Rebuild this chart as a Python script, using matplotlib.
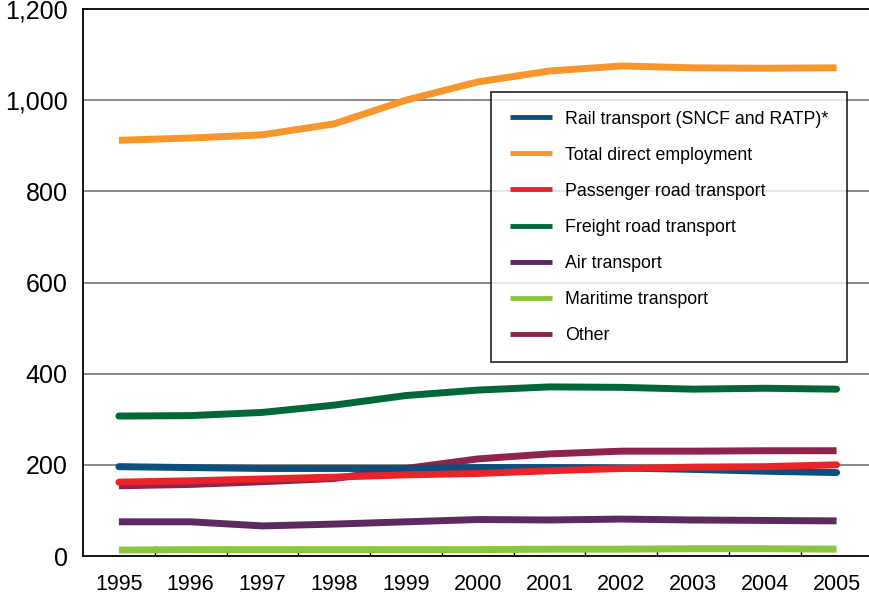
import matplotlib
matplotlib.use("Agg")
import matplotlib.pyplot as plt
from matplotlib.ticker import FuncFormatter

plt.rcParams['font.family'] = ['Liberation Sans', 'DejaVu Sans']

years = [1995, 1996, 1997, 1998, 1999, 2000, 2001, 2002, 2003, 2004, 2005]

rail = [196, 194, 192, 192, 192, 194, 194, 193, 190, 186, 183]
total = [912, 917, 924, 948, 1000, 1040, 1064, 1075, 1071, 1070, 1071]
passenger = [162, 165, 169, 173, 178, 181, 187, 192, 195, 196, 200]
freight = [307, 308, 315, 331, 352, 364, 371, 370, 366, 368, 366]
air = [75, 75, 66, 70, 75, 80, 79, 81, 79, 78, 77]
maritime = [13, 14, 14, 14, 14, 14, 15, 15, 16, 16, 15]
other = [154, 157, 163, 170, 192, 213, 224, 230, 230, 231, 231]

labels = ["Rail transport (SNCF and RATP)*", "Total direct employment",
          "Passenger road transport", "Freight road transport",
          "Air transport", "Maritime transport", "Other"]
colors = ["#0b4f7f", "#f7962a", "#e8242a", "#006837",
          "#5b2a5f", "#8cc63f", "#8e244d"]
caps = ["round", "butt", "round", "round", "butt", "butt", "butt"]

fig = plt.figure(figsize=(8.69, 5.98), dpi=100)
ax = fig.add_axes([83 / 869, 42 / 598, 1 - 83 / 869 + 0.004, 547 / 598])

x = list(range(len(years)))
series = [rail, total, passenger, freight, air, maritime, other]
# draw order: other under passenger, etc.
order = [1, 3, 6, 0, 2, 4, 5]
handles = [None] * len(series)
for i in order:
    h, = ax.plot(x, series[i], color=colors[i], lw=5,
                 solid_capstyle=caps[i], solid_joinstyle='round', zorder=3)
    handles[i] = h

ax.set_xlim(-0.5, 10.5)
ax.set_ylim(0, 1200)
ax.set_yticks(range(0, 1201, 200))
ax.yaxis.set_major_formatter(FuncFormatter(lambda v, p: f"{int(v):,}"))
for v in range(200, 1001, 200):
    ax.axhline(v, color="#7f7f7f", lw=1.3, zorder=1)

ax.set_xticks(x)
ax.set_xticklabels([str(y) for y in years])
ax.set_xticks([i + 0.5 for i in range(10)], minor=True)
ax.tick_params(axis='x', which='major', length=0, pad=13, labelsize=15.5)
ax.tick_params(axis='x', which='minor', direction='in', length=7, width=1)
ax.tick_params(axis='y', length=0, pad=11, labelsize=18)

ax.spines['right'].set_visible(False)
for s in ['left', 'bottom', 'top']:
    ax.spines[s].set_linewidth(1.3)

leg = ax.legend(handles, labels, loc='upper left',
                bbox_to_anchor=(491 / 869, 1 - 92 / 598),
                bbox_transform=fig.transFigure, borderaxespad=0,
                fontsize=12.8, frameon=True, fancybox=False,
                edgecolor='black', handlelength=2.4, handletextpad=0.7,
                labelspacing=1.07, borderpad=1.05)
leg.get_frame().set_linewidth(1.3)
for line in leg.get_lines():
    line.set_linewidth(3.5)
    line.set_solid_capstyle('butt')

fig.savefig("out.png", dpi=100)
